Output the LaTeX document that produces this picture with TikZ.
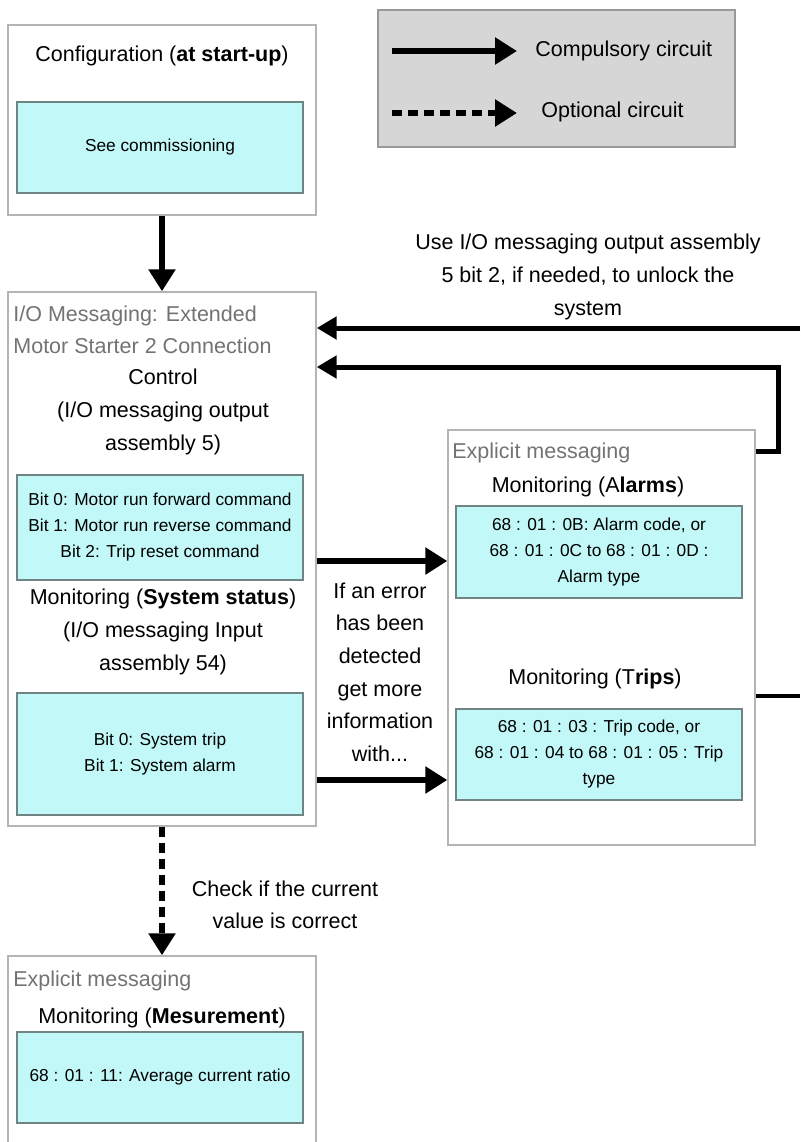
\documentclass[tikz,border=0pt]{standalone}
\usepackage{fontspec}
\setmainfont{Liberation Sans}
\usetikzlibrary{arrows.meta,fit}
\definecolor{cellcyan}{RGB}{194,248,247}
\definecolor{cellline}{RGB}{112,132,132}
\definecolor{boxline}{RGB}{180,180,180}
\definecolor{headgray}{RGB}{115,115,115}
\definecolor{legendgray}{RGB}{214,214,214}
\newcommand{\bigfont}{\fontsize{10.75pt}{16.3pt}\selectfont}
\newcommand{\cellfont}{\fontsize{8.65pt}{13pt}\selectfont}

\begin{document}
\begin{tikzpicture}[x=0.5pt,y=-0.5pt,
  outerbox/.style={draw=boxline,line width=0.7pt,fill=white,inner sep=0pt},
  cell/.style={draw=cellline,line width=0.6pt,fill=cellcyan,inner sep=0pt},
  celltxt/.style={align=center,inner sep=0pt,font=\cellfont},
  txt/.style={align=center,inner sep=0pt,font=\bigfont},
  header/.style={align=left,anchor=west,inner sep=0pt,font=\bigfont,text=headgray},
  flow/.style={line width=3pt,-{Triangle[length=11pt,width=13pt]}},
  backflow/.style={line width=2.5pt,-{Triangle[length=10pt,width=11pt]}},
  backline/.style={line width=2.2pt}]
\useasboundingbox (0,0) rectangle (800,1142);

% configuration
\node[outerbox,fit={(8,25) (316,215)}] (config) {};
\node[txt] (configtitle) at (162,56) {Configuration (\textbf{at start-up})};
\node[cell,fit={(17,102) (303,193)}] (configcell) {};
\node[celltxt] at (configcell) {See commissioning};

% legend
\node[outerbox,draw=gray!80,fill=legendgray,fit={(378,10) (735,147)}] (legend) {};
\coordinate (solidfrom) at (392,51);
\coordinate (solidto) at (517,51);
\coordinate (dashfrom) at (392,113);
\coordinate (dashto) at (517,113);
\draw[flow] (solidfrom) -- (solidto);
\draw[flow,dash pattern=on 5pt off 3pt] (dashfrom) -- (dashto);
\node[txt,anchor=west] (solidtext) at (535,51) {Compulsory circuit};
\node[txt,anchor=west] (dashtext) at (541,112) {Optional circuit};

% I/O messaging
\node[outerbox,fit={(8,292) (316,826)}] (io) {};
\node[header] (ioheader) at (13,330) {I/O Messaging: Extended\\Motor Starter 2 Connection};
\node[txt] (control) at (163,412) {Control\\(I/O messaging output\\assembly 5)};
\node[cell,fit={(17,475) (303,580)}] (controlcell) {};
\node[celltxt] at (controlcell) {Bit 0: Motor run forward command\\Bit 1: Motor run reverse command\\Bit 2: Trip reset command};
\node[txt] (status) at (163,632) {Monitoring (\textbf{System status})\\(I/O messaging Input\\assembly 54)};
\node[cell,fit={(17,693) (303,815)}] (statuscell) {};
\node[celltxt] at (statuscell) {Bit 0: System trip\\Bit 1: System alarm};

% explicit messaging, alarms and trips
\node[outerbox,fit={(448,430) (755,845)}] (explicit) {};
\node[header] (explicitheader) at (452,453) {Explicit messaging};
\node[txt] (alarms) at (588,487) {Monitoring (A\textbf{larms})};
\node[cell,fit={(456,506) (742,598)}] (alarmcell) {};
\node[celltxt] at (alarmcell) {68 : 01 : 0B: Alarm code, or\\68 : 01 : 0C to 68 : 01 : 0D :\\Alarm type};
\node[txt] (trips) at (595,679) {Monitoring (T\textbf{rips})};
\node[cell,fit={(456,709) (742,800)}] (tripcell) {};
\node[celltxt] at (tripcell) {68 : 01 : 03 : Trip code, or\\68 : 01 : 04 to 68 : 01 : 05 : Trip\\type};

% explicit messaging, measurement
\node[outerbox,fit={(8,956) (316,1150)}] (measure) {};
\node[header] (measureheader) at (13,981) {Explicit messaging};
\node[txt] (mesurement) at (162,1018) {Monitoring (\textbf{Mesurement})};
\node[cell,fit={(17,1032) (303,1123)}] (measurecell) {};
\node[celltxt] at (measurecell) {68 : 01 : 11: Average current ratio};

% notes
\node[txt] (unlocknote) at (588,277) {Use I/O messaging output assembly\\5 bit 2, if needed, to unlock the\\system};
\node[txt] (errornote) at (380,672) {If an error\\has been\\detected\\get more\\information\\with...};
\node[txt] (checknote) at (285,905) {Check if the current\\value is correct};

% connectors
\draw[flow] (config.south) -- (io.north);
\draw[flow,dash pattern=on 5pt off 3pt] (io.south) -- (measure.north);
\coordinate (ctlrow) at (0,561);
\coordinate (statusrow) at (0,780);
\draw[flow] (ctlrow -| io.east) -- (ctlrow -| explicit.west);
\draw[flow] (statusrow -| io.east) -- (statusrow -| explicit.west);
\coordinate (tripsrow) at (0,696);
\coordinate (rightedge) at (800,696);
\draw[backline] (tripsrow -| explicit.east) -- (rightedge);
\coordinate (resetin) at (800,328);
\draw[backflow] (resetin) -- (resetin -| io.east);
\coordinate (alarmsrow) at (0,451);
\coordinate (loopturn) at (778,367);
\draw[backflow] (alarmsrow -| explicit.east) -| (loopturn) -- (loopturn -| io.east);
\end{tikzpicture}
\end{document}
